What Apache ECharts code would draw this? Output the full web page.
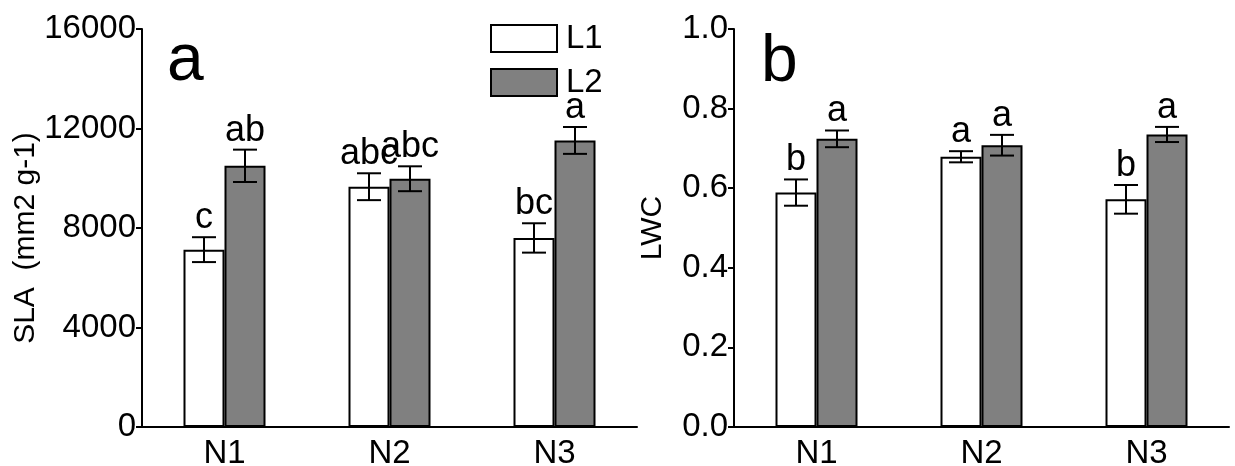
<!DOCTYPE html>
<html>
<head>
<meta charset="utf-8">
<script src="https://cdn.jsdelivr.net/npm/echarts@6/dist/echarts.min.js"></script>
<style>
  html, body { margin: 0; padding: 0; background: #fff; }
  #chart { width: 1235px; height: 466px; }
</style>
</head>
<body>
<div id="chart"></div>
<script>
// categories + means / SE / significance letters
const categories = ['N1', 'N2', 'N3'];

const slaL1 = [7130, 9660, 7600];
const slaL1Err = [500, 540, 590];
const slaL1Sig = ['c', 'abc', 'bc'];
const slaL2 = [10500, 9980, 11520];
const slaL2Err = [650, 500, 540];
const slaL2Sig = ['ab', 'abc', 'a'];

const lwcL1 = [0.589, 0.679, 0.572];
const lwcL1Err = [0.033, 0.014, 0.036];
const lwcL1Sig = ['b', 'a', 'b'];
const lwcL2 = [0.724, 0.708, 0.735];
const lwcL2Err = [0.021, 0.026, 0.019];
const lwcL2Sig = ['a', 'a', 'a'];

const FONT = "'Liberation Sans', Arial, sans-serif";
const BAR_W = 41;
const C_L1 = '#ffffff';
const C_L2 = '#808080';

const chart = echarts.init(document.getElementById('chart'));

// error bar + letter above it; side -1 = left bar (L1), +1 = right bar (L2)
function errSeries(name, gridIdx, means, errs, sigs, side) {
  return {
    name: name + '-err', type: 'custom', xAxisIndex: gridIdx, yAxisIndex: gridIdx,
    data: means.map((m, i) => [i, m, errs[i], sigs[i]]),
    z: 5,
    renderItem: (params, api) => {
      const i = api.value(0), m = api.value(1), e = api.value(2);
      const off = side * BAR_W / 2;
      const hi = api.coord([i, m + e]);
      const lo = api.coord([i, m - e]);
      const x = hi[0] + off;
      const cap = 12;
      const ls = { stroke: '#000', lineWidth: 2 };
      return {
        type: 'group',
        children: [
          { type: 'line', shape: { x1: x, y1: hi[1], x2: x, y2: lo[1] }, style: ls },
          { type: 'line', shape: { x1: x - cap, y1: hi[1], x2: x + cap, y2: hi[1] }, style: ls },
          { type: 'line', shape: { x1: x - cap, y1: lo[1], x2: x + cap, y2: lo[1] }, style: ls },
          {
            type: 'text',
            style: {
              x: x, y: hi[1] - 1, text: sigs[i], fill: '#000',
              font: '36px ' + FONT, align: 'center', verticalAlign: 'bottom',
            },
          },
        ],
      };
    },
  };
}

function barSeries(name, gridIdx, data, color) {
  return {
    name, type: 'bar', xAxisIndex: gridIdx, yAxisIndex: gridIdx,
    data, barWidth: BAR_W, barGap: '0%',
    itemStyle: { color, borderColor: '#000', borderWidth: 2 },
  };
}

const axisLine = { show: true, lineStyle: { color: '#000', width: 2 } };
const labelStyle = { color: '#000', fontSize: 33, fontFamily: FONT };

function xAxis(gridIdx) {
  return {
    type: 'category', gridIndex: gridIdx, data: categories,
    axisLine, axisTick: { alignWithLabel: true, length: 8, lineStyle: { color: '#000', width: 2 } },
    axisLabel: { ...labelStyle, margin: 10 },
    splitLine: { show: false },
  };
}

chart.setOption({
  animation: false,
  title: [
    { text: 'a', left: 162, top: 24, textStyle: { fontSize: 66, fontWeight: 'normal', color: '#000', fontFamily: FONT } },
    { text: 'b', left: 756, top: 25, textStyle: { fontSize: 66, fontWeight: 'normal', color: '#000', fontFamily: FONT } },
  ],
  legend: {
    data: [
      { name: 'L1', itemStyle: { color: C_L1, borderColor: '#000', borderWidth: 2 } },
      { name: 'L2', itemStyle: { color: C_L2, borderColor: '#000', borderWidth: 2 } },
    ],
    orient: 'vertical', left: 485, top: 17,
    icon: 'rect', itemWidth: 66, itemHeight: 27, itemGap: 11,
    textStyle: { ...labelStyle, lineHeight: 27, padding: [0, 0, 0, 4] },
    selectedMode: false,
  },
  grid: [
    { left: 142, right: 598, top: 29, bottom: 39, outerBoundsMode: 'none' },
    { left: 734, right: 6, top: 29, bottom: 39, outerBoundsMode: 'none' },
  ],
  xAxis: [xAxis(0), xAxis(1)],
  yAxis: [
    {
      type: 'value', gridIndex: 0, min: 0, max: 16000, interval: 4000,
      name: 'SLA  (mm2 g-1)', nameLocation: 'middle', nameGap: 98,
      nameTextStyle: { ...labelStyle, fontSize: 30, padding: [0, 20, 0, 0] },
      axisLine, axisTick: { show: true, length: 6, lineStyle: { color: '#000', width: 2 } },
      axisLabel: { ...labelStyle, margin: 6, formatter: v => String(v) },
      splitLine: { show: false },
    },
    {
      type: 'value', gridIndex: 1, min: 0, max: 1, interval: 0.2,
      name: 'LWC', nameLocation: 'middle', nameGap: 66,
      nameTextStyle: { ...labelStyle, fontSize: 30 },
      axisLine, axisTick: { show: true, length: 6, lineStyle: { color: '#000', width: 2 } },
      axisLabel: { ...labelStyle, margin: 6, formatter: v => v.toFixed(1) },
      splitLine: { show: false },
    },
  ],
  series: [
    barSeries('L1', 0, slaL1, C_L1),
    barSeries('L2', 0, slaL2, C_L2),
    barSeries('L1', 1, lwcL1, C_L1),
    barSeries('L2', 1, lwcL2, C_L2),
    errSeries('L1', 0, slaL1, slaL1Err, slaL1Sig, -1),
    errSeries('L2', 0, slaL2, slaL2Err, slaL2Sig, 1),
    errSeries('L1', 1, lwcL1, lwcL1Err, lwcL1Sig, -1),
    errSeries('L2', 1, lwcL2, lwcL2Err, lwcL2Sig, 1),
  ],
});
</script>
</body>
</html>
